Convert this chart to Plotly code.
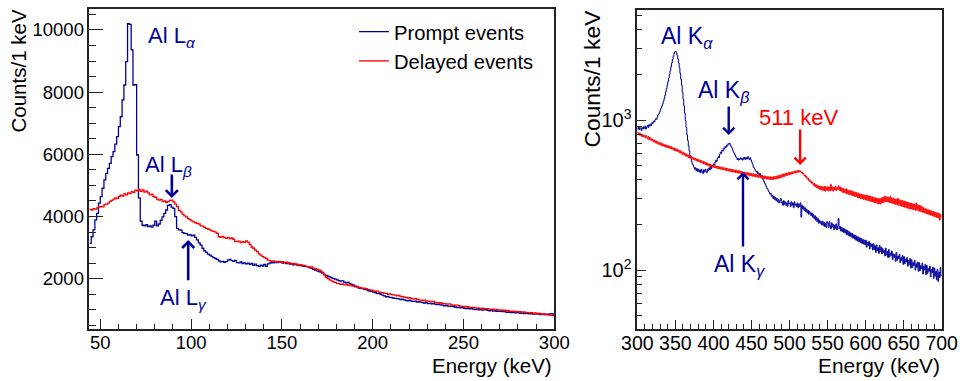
import numpy as np
import plotly.graph_objects as go

W, H = 962, 381

# ---------------- data: counts per 1 keV bin ----------------
# Low-energy window, bins start at 44 keV
low_start = 44
prompt_low = [
    3140, 3350, 3570, 3890, 4100, 4430,
    4640, 4910, 5180, 5390, 5550, 5710, 5930, 6090, 6330, 6570,
    6890, 7210, 7750, 8230, 8980, 10200, 10180, 9360, 8230, 8240,
    5980, 4600, 3850, 3720, 3700, 3740, 3680, 3700, 3660, 3720,
    3850, 3700, 3760, 3880, 3990, 4100, 4210, 4360, 4380, 4300,
    4260, 4000, 3620, 3570, 3560, 3480, 3460, 3450, 3400, 3420,
    3380, 3400, 3330, 3250, 3150, 3080, 2980, 2900, 2850, 2790,
    2760, 2720, 2680, 2650, 2620, 2570, 2540, 2560, 2530, 2550,
    2600, 2620, 2580, 2560, 2590, 2520, 2510, 2540, 2490, 2510,
    2480, 2500, 2460, 2490, 2430, 2470, 2420, 2400, 2440, 2410,
    2460, 2400, 2480, 2500, 2520, 2510, 2540, 2520, 2550, 2530,
    2500, 2520, 2490, 2510, 2470, 2480, 2450, 2470, 2440, 2420,
    2440, 2410, 2400, 2390, 2380, 2350, 2330, 2300, 2280, 2250,
    2230, 2210, 2180, 2140, 2110, 2080, 2060, 2030, 2000, 1990,
    1960, 1940, 1920, 1930, 1890, 1870, 1880, 1840, 1820, 1790,
    1760, 1740, 1700, 1690, 1680, 1660, 1650, 1620, 1600, 1590,
    1570, 1550, 1530, 1520, 1500, 1470, 1450, 1420, 1430, 1400,
    1390, 1380, 1370, 1360, 1350, 1330, 1340, 1320, 1300, 1290,
    1310, 1280, 1270, 1280, 1250, 1260, 1250, 1230, 1220, 1240,
    1200, 1210, 1190, 1200, 1180, 1170, 1180, 1160, 1150, 1130,
    1140, 1120, 1110, 1120, 1100, 1090, 1070, 1080, 1060, 1070,
    1050, 1040, 1050, 1030, 1040, 1020, 1010, 1020, 1000, 1010,
    990, 1000, 1010, 980, 970, 980, 960, 970, 950, 960,
    950, 940, 950, 930, 920, 930, 910, 920, 900, 910,
    900, 890, 900, 880, 890, 880, 870, 880, 860, 870,
    860, 870, 850, 860, 850, 860, 850, 870, 880, 860,
]
delayed_low = [
    4230, 4210, 4250, 4240, 4280, 4300,
    4330, 4310, 4380, 4400, 4430, 4490, 4520, 4560, 4600, 4580,
    4650, 4690, 4660, 4730, 4700, 4760, 4740, 4800, 4780, 4850,
    4830, 4870, 4810, 4860, 4790, 4820, 4760, 4700, 4720, 4650,
    4620, 4560, 4530, 4550, 4480, 4500, 4460, 4480, 4520, 4530,
    4470, 4400, 4320, 4200, 4150, 4080, 4020, 3990, 3930, 3900,
    3860, 3830, 3800, 3780, 3760, 3700, 3690, 3650, 3620, 3600,
    3570, 3540, 3520, 3500, 3460, 3350, 3330, 3360, 3320, 3300,
    3330, 3290, 3310, 3270, 3200, 3190, 3210, 3160, 3190, 3170,
    3220, 3180, 3100, 3020, 2980, 2920, 2870, 2800, 2760, 2710,
    2680, 2650, 2600, 2580, 2560, 2570, 2550, 2540, 2560, 2530,
    2550, 2520, 2530, 2500, 2510, 2480, 2490, 2460, 2470, 2440,
    2450, 2420, 2430, 2400, 2390, 2370, 2380, 2340, 2320, 2300,
    2280, 2250, 2200, 2120, 2040, 2000, 1960, 1930, 1900, 1880,
    1850, 1840, 1820, 1830, 1800, 1810, 1790, 1800, 1770, 1760,
    1740, 1750, 1720, 1710, 1690, 1700, 1680, 1660, 1640, 1630,
    1610, 1590, 1600, 1570, 1560, 1550, 1540, 1530, 1500, 1510,
    1490, 1480, 1470, 1450, 1460, 1430, 1420, 1410, 1400, 1380,
    1390, 1370, 1350, 1360, 1340, 1320, 1310, 1300, 1310, 1290,
    1280, 1270, 1260, 1270, 1240, 1230, 1220, 1230, 1210, 1200,
    1190, 1180, 1190, 1160, 1150, 1140, 1150, 1130, 1120, 1110,
    1100, 1110, 1090, 1080, 1070, 1080, 1060, 1050, 1060, 1040,
    1050, 1040, 1030, 1040, 1020, 1010, 1020, 1000, 1010, 990,
    1000, 980, 990, 970, 980, 960, 950, 960, 940, 950,
    930, 940, 920, 930, 910, 920, 900, 910, 890, 900,
    880, 890, 870, 860, 870, 850, 840, 830, 820, 810,
]

# High-energy window, bins start at 300 keV
high_start = 300
prompt_high = [
    870, 900, 860, 890, 880, 850, 890, 870, 900, 880,
    910, 870, 900, 920, 890, 930, 910, 940, 920, 960,
    950, 980, 970, 1000, 1020, 1010, 1050, 1080, 1100, 1130,
    1170, 1200, 1240, 1280, 1330, 1390, 1460, 1540, 1620, 1710,
    1800, 1900, 2010, 2130, 2260, 2400, 2530, 2660, 2770, 2850,
    2870, 2800, 2700, 2560, 2400, 2230, 2050, 1870, 1700, 1530,
    1380, 1240, 1110, 990, 890, 800, 730, 670, 620, 580,
    560, 530, 510, 500, 485, 470, 480, 460, 475, 455,
    470, 450, 465, 445, 470, 455, 440, 465, 450, 470,
    455, 445, 470, 460, 480, 465, 490, 475, 500, 490,
    510, 500, 525, 540, 530, 555, 570, 560, 590, 610,
    600, 630, 620, 650, 640, 665, 655, 680, 670, 695,
    690, 700, 680, 665, 650, 630, 610, 600, 585, 570,
    560, 545, 555, 540, 550, 560, 545, 555, 540, 560,
    550, 565, 545, 560, 550, 570, 555, 545, 560, 540,
    525, 510, 490, 480, 470, 460, 450, 455, 440, 445,
    430, 440, 420, 425, 410, 400, 390, 380, 370, 360,
    350, 345, 335, 330, 320, 325, 310, 315, 300, 310,
    295, 305, 290, 300, 285, 295, 280, 290, 300, 280,
    285, 270, 290, 275, 285, 270, 280, 265, 290, 275,
    280, 265, 285, 270, 280, 260, 285, 270, 275, 265,
    280, 260, 275, 265, 280, 225, 270, 255, 265, 250,
    260, 245, 255, 240, 250, 235, 245, 240, 230, 240,
    225, 235, 220, 230, 215, 225, 210, 220, 205, 215,
    205, 210, 200, 212, 198, 208, 195, 205, 192, 210,
    205, 192, 210, 198, 188, 206, 194, 202, 186, 199,
    190, 203, 185, 196, 220, 188, 195, 182, 193, 180,
    190, 178, 188, 176, 185, 172, 183, 170, 180, 168,
    177, 166, 175, 163, 172, 161, 170, 158, 168, 156,
    166, 154, 164, 152, 162, 150, 160, 149, 158, 147,
    158, 142, 152, 146, 155, 138, 150, 143, 149, 136,
    150, 137, 145, 131, 147, 135, 141, 129, 146, 133,
    142, 128, 139, 131, 135, 124, 140, 126, 133, 121,
    137, 122, 130, 125, 134, 117, 128, 121, 127, 114,
    131, 116, 124, 119, 127, 112, 121, 116, 125, 109,
    123, 110, 118, 113, 121, 106, 116, 109, 119, 103,
    117, 104, 112, 107, 116, 100, 110, 104, 113, 98,
    112, 99, 107, 102, 111, 94, 106, 100, 109, 93,
    107, 95, 102, 98, 106, 90, 101, 96, 104, 88,
    103, 91, 98, 86, 101, 84, 97, 89, 104, 92,
]
delayed_high = [
    830, 800, 820, 790, 810, 780, 800, 770, 795, 780,
    760, 790, 770, 750, 775, 740, 765, 735, 750, 725,
    745, 715, 735, 705, 725, 700, 720, 690, 710, 685,
    705, 675, 700, 670, 690, 665, 685, 660, 680, 655,
    675, 650, 670, 645, 665, 640, 655, 630, 650, 625,
    645, 620, 640, 615, 630, 605, 625, 600, 615, 590,
    610, 585, 600, 575, 595, 570, 585, 560, 580, 555,
    575, 550, 565, 545, 560, 540, 555, 535, 550, 530,
    545, 525, 540, 520, 535, 515, 530, 510, 525, 505,
    520, 500, 515, 495, 510, 490, 505, 488, 500, 485,
    498, 482, 495, 478, 492, 475, 490, 472, 488, 470,
    485, 468, 482, 465, 480, 462, 478, 460, 475, 458,
    472, 455, 470, 452, 468, 450, 466, 448, 464, 446,
    462, 444, 460, 442, 458, 440, 455, 438, 452, 435,
    450, 433, 448, 430, 446, 428, 444, 426, 442, 424,
    440, 422, 438, 420, 436, 418, 434, 416, 432, 414,
    430, 412, 428, 410, 426, 408, 424, 406, 422, 404,
    420, 403, 419, 402, 418, 401, 417, 400, 418, 402,
    420, 404, 422, 406, 425, 408, 428, 411, 431, 414,
    434, 418, 437, 421, 440, 425, 443, 428, 446, 431,
    448, 434, 450, 437, 452, 440, 455, 443, 458, 446,
    460, 448, 462, 450, 458, 445, 450, 436, 440, 425,
    430, 415, 420, 404, 410, 393, 400, 385, 392, 378,
    385, 368, 378, 360, 372, 355, 368, 350, 364, 345,
    362, 342, 360, 340, 358, 338, 362, 335, 356, 340,
    360, 336, 355, 338, 372, 340, 358, 335, 356, 342,
    362, 338, 355, 345, 365, 340, 358, 336, 352, 330,
    350, 328, 345, 326, 348, 322, 342, 320, 338, 318,
    340, 315, 336, 312, 332, 310, 330, 308, 328, 305,
    325, 302, 322, 300, 320, 298, 318, 296, 316, 294,
    315, 292, 314, 290, 312, 288, 310, 286, 308, 284,
    305, 282, 303, 280, 302, 278, 300, 276, 298, 275,
    302, 280, 305, 282, 308, 285, 310, 286, 306, 284,
    305, 282, 310, 280, 303, 278, 300, 276, 298, 274,
    296, 272, 300, 270, 294, 268, 292, 266, 290, 264,
    288, 262, 286, 260, 284, 258, 282, 256, 280, 255,
    278, 254, 276, 252, 274, 250, 280, 252, 272, 248,
    270, 246, 268, 244, 264, 242, 260, 240, 256, 238,
    254, 236, 252, 234, 250, 232, 248, 230, 246, 228,
    244, 226, 242, 224, 240, 222, 238, 215, 235, 225,
]

low_ticks = [2000, 4000, 6000, 8000, 10000]

NAVY = "#000099"
RED = "#ff0000"
FONT = "Liberation Sans, Arial, Helvetica, sans-serif"
FRAME = "#222222"


def hist_outline(start, counts):
    """Bin edges and step heights for a 1 keV histogram outline."""
    edges = np.arange(start, start + len(counts) + 1)
    return edges, list(counts) + [counts[-1]]


def px(X):
    return X / W


def py(Y):
    return 1 - Y / H


fig = go.Figure()

for counts, colour, name in [(prompt_low, NAVY, "Prompt events"),
                             (delayed_low, RED, "Delayed events")]:
    x, y = hist_outline(low_start, counts)
    fig.add_trace(go.Scatter(x=x, y=y, mode="lines", name=name,
                             line=dict(shape="hv", color=colour, width=1.3),
                             xaxis="x", yaxis="y"))

for counts, colour in [(prompt_high, NAVY), (delayed_high, RED)]:
    x, y = hist_outline(high_start, counts)
    fig.add_trace(go.Scatter(x=x, y=y, mode="lines", showlegend=False,
                             line=dict(shape="hv", color=colour, width=1.0),
                             xaxis="x2", yaxis="y2"))

axis_common = dict(showline=True, mirror=True, linecolor=FRAME, linewidth=1.5,
                   showgrid=False, zeroline=False, ticks="inside",
                   tickcolor=FRAME, tickwidth=1.2, automargin=False)

left_x = [px(89.4), px(554.3)]
right_x = [px(637.3), px(941.7)]

fig.update_layout(
    width=W, height=H,
    margin=dict(l=0, r=0, t=0, b=0),
    paper_bgcolor="white", plot_bgcolor="white",
    font=dict(family=FONT, color="black"),
    xaxis=dict(domain=left_x, range=[44, 300], anchor="y",
               tickvals=[50, 100, 150, 200, 250, 300], ticklen=10,
               tickfont=dict(size=18.5), ticklabelstandoff=-4,
               minor=dict(ticks="inside", ticklen=5, tick0=0, dtick=10,
                          tickcolor=FRAME, tickwidth=1.2),
               **axis_common),
    yaxis=dict(domain=[py(329), py(9)], range=[383, 10675], anchor="x",
               tickvals=low_ticks, ticktext=[str(v) for v in low_ticks],
               ticklen=14, tickfont=dict(size=18.5),
               minor=dict(ticks="inside", ticklen=7, tick0=0, dtick=500,
                          tickcolor=FRAME, tickwidth=1.2),
               **axis_common),
    xaxis2=dict(domain=right_x, range=[300, 700], anchor="y2",
                tickvals=list(range(300, 701, 50)), ticklen=9.6,
                tickfont=dict(size=19.5), ticklabelstandoff=-4,
                minor=dict(ticks="inside", ticklen=5, tick0=0, dtick=10,
                           tickcolor=FRAME, tickwidth=1.2),
                **axis_common),
    yaxis2=dict(domain=[py(329), py(10)], type="log",
                range=[1.6067, 3.7333], anchor="x2",
                tickvals=[100, 1000],
                ticktext=["10<sup>2</sup>", "10<sup>3</sup>"], ticklen=9,
                tickfont=dict(size=20),
                minor=dict(ticks="inside", ticklen=4.5,
                           tickvals=[k * 10 ** n for n in (1, 2, 3)
                                     for k in range(2, 10)],
                           tickcolor=FRAME, tickwidth=1.2),
                **axis_common),
    legend=dict(x=px(354), y=py(12), xanchor="left", yanchor="top",
                bgcolor="rgba(0,0,0,0)", borderwidth=0,
                font=dict(size=20.2, family=FONT), tracegroupgap=0),
)

annotations = []

# axis titles (ROOT style: at the end of each axis)
for X, Y, size in [(18, 71.5, 20.5), (591, 78.5, 22.8)]:
    annotations.append(dict(xref="paper", yref="paper", x=px(X), y=py(Y),
                            text="Counts/1 keV", showarrow=False,
                            textangle=-90, xanchor="center", yanchor="middle",
                            font=dict(size=size, family=FONT)))
for X, size in [(554.3, 20.5), (941.7, 20.9)]:
    annotations.append(dict(xref="paper", yref="paper", x=px(X), y=py(365),
                            text="Energy (keV)", showarrow=False,
                            xanchor="right", yanchor="middle",
                            font=dict(size=size, family=FONT)))

# peak labels
labels = [
    (146, 37, "Al L<sub><i>α</i></sub>", NAVY, 22),
    (143, 166, "Al L<sub><i>β</i></sub>", NAVY, 22),
    (158, 299, "Al L<sub><i>γ</i></sub>", NAVY, 22),
    (659, 37, "Al K<sub><i>α</i></sub>", NAVY, 23),
    (696, 91, "Al K<sub><i>β</i></sub>", NAVY, 23),
    (757, 117, "511 keV", RED, 22),
    (712, 265, "Al K<sub><i>γ</i></sub>", NAVY, 23),
]
for X, Y, txt, colour, size in labels:
    annotations.append(dict(xref="paper", yref="paper", x=px(X), y=py(Y),
                            text=txt, showarrow=False, xanchor="left",
                            yanchor="middle",
                            font=dict(size=size, family=FONT, color=colour)))

# arrows pointing at the peaks: (x tip, y tip, y tail) in data units
left_arrows = [(89.4, 4595, 5400), (98.4, 3244, 1904)]
for xe, ytip, ytail in left_arrows:
    annotations.append(dict(xref="x", yref="y", axref="x", ayref="y",
                            x=xe, y=ytip, ax=xe, ay=ytail, text="",
                            showarrow=True, arrowhead=4, arrowsize=0.9,
                            arrowwidth=2.6, arrowcolor=NAVY, standoff=0))
right_arrows = [(420.1, 794, 1259, NAVY), (514.0, 501, 884, RED),
                (438.9, 450, 140, NAVY)]
for xe, ytip, ytail, colour in right_arrows:
    annotations.append(dict(xref="x2", yref="y2", axref="x2", ayref="y2",
                            x=xe, y=np.log10(ytip), ax=xe, ay=np.log10(ytail),
                            text="", showarrow=True, arrowhead=4,
                            arrowsize=0.9, arrowwidth=2.4, arrowcolor=colour,
                            standoff=0))

fig.update_layout(annotations=annotations)

fig.write_html("out.html")
